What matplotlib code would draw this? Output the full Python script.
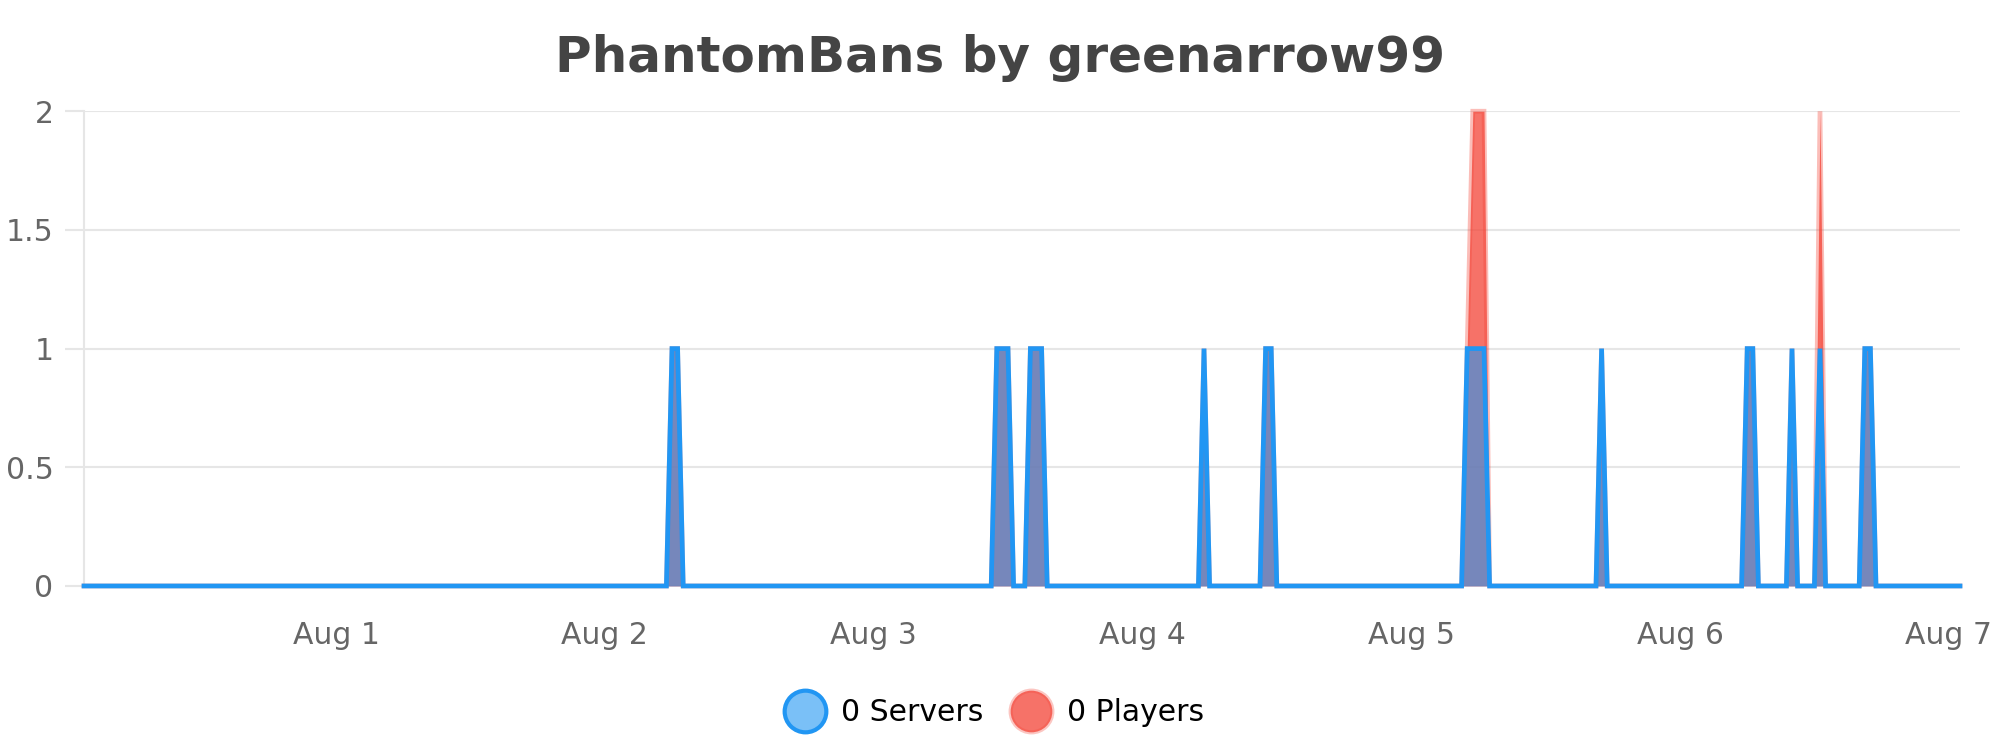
import pandas as pd
import matplotlib
matplotlib.use("Agg")
import matplotlib.pyplot as plt
from matplotlib.lines import Line2D

title = "PhantomBans by greenarrow99"
series_names = ["Servers", "Players"]
legend_counts = [0, 0]

# samples every 30 min, everything outside the spikes is 0
first_sample = "2023-07-31 01:30"
last_sample = "2023-08-07 01:00"
spike_starts = ["2023-08-02 06:00", "2023-08-03 11:00", "2023-08-03 14:00",
                "2023-08-04 05:30", "2023-08-04 11:00", "2023-08-05 05:00",
                "2023-08-05 17:00", "2023-08-06 06:00", "2023-08-06 10:00",
                "2023-08-06 12:30", "2023-08-06 16:30"]
servers_spikes = [[1, 1], [1, 1, 1], [1, 1, 1], [1], [1, 1], [1, 1, 1, 1],
                  [1], [1, 1], [1], [1], [1, 1]]
players_spikes = [[1, 1], [1, 1, 1], [1, 1, 1], [1], [1, 1], [1, 2, 2, 2],
                  [1], [1, 1], [1], [2], [1, 1]]

day_ticks = ["2023-08-01", "2023-08-02", "2023-08-03", "2023-08-04",
             "2023-08-05", "2023-08-06", "2023-08-07"]
day_labels = ["Aug 1", "Aug 2", "Aug 3", "Aug 4", "Aug 5", "Aug 6", "Aug 7"]
y_ticks = [0, 0.5, 1, 1.5, 2]
y_labels = ["0", "0.5", "1", "1.5", "2"]

blue = "#2196F3"
blue_fill = (33 / 255, 150 / 255, 243 / 255, 0.6)
red_fill = (244 / 255, 67 / 255, 54 / 255, 0.75)
red_line = (244 / 255, 67 / 255, 54 / 255, 0.35)
grid_c = "#E6E6E6"
text_c = "#666666"


def build_series(times, starts, spikes):
    s = pd.Series(0.0, index=times)
    for start, vals in zip(starts, spikes):
        i = times.get_loc(pd.Timestamp(start))
        s.iloc[i:i + len(vals)] = vals
    return s


times = pd.date_range(first_sample, last_sample, freq="30min")
servers = build_series(times, spike_starts, servers_spikes)
players = build_series(times, spike_starts, players_spikes)

fig = plt.figure(figsize=(20, 7.5), dpi=100)
ax = fig.add_axes([0.042, 0.2187, 0.938, 0.633])

# players first so servers sit on top
ax.fill_between(times, 0, players.values, color=red_fill, lw=0, zorder=2)
ax.plot(times, players.values, color=red_line, lw=3.4, zorder=3,
        solid_joinstyle="miter", clip_on=False)
ax.fill_between(times, 0, servers.values, color=blue_fill, lw=0, zorder=4)
ax.plot(times, servers.values, color=blue, lw=3.4, zorder=5,
        solid_joinstyle="miter", clip_on=False)

ax.set_xlim(times[0], times[-1])
ax.set_ylim(0, 2)
ax.set_yticks(y_ticks)
ax.set_yticklabels(y_labels)
ax.set_xticks(pd.to_datetime(day_ticks))
ax.set_xticklabels(day_labels)

ax.grid(axis="y", color=grid_c, lw=1.5, zorder=0)
ax.grid(axis="x", visible=False)
for side in ["top", "right", "bottom"]:
    ax.spines[side].set_visible(False)
ax.spines["left"].set_color(grid_c)
ax.spines["left"].set_linewidth(1.5)
ax.tick_params(axis="y", length=14, width=1.5, color=grid_c, labelsize=21.5,
               labelcolor=text_c, pad=8)
ax.tick_params(axis="x", length=0, labelsize=21.5, labelcolor=text_c, pad=25)

fig.text(0.5, 0.922, title, ha="center", va="center", fontsize=36,
         fontweight="bold", color="#444444")

handles = [
    Line2D([], [], ls="", marker="o", markersize=30, markerfacecolor=blue_fill,
           markeredgecolor=blue, markeredgewidth=3),
    Line2D([], [], ls="", marker="o", markersize=30, markerfacecolor=red_fill,
           markeredgecolor=(244 / 255, 67 / 255, 54 / 255, 0.3), markeredgewidth=3),
]
labels = [f"{n} {name}" for n, name in zip(legend_counts, series_names)]
fig.legend(handles, labels, loc="center", bbox_to_anchor=(0.495, 0.05), ncol=2,
           frameon=False, fontsize=21.5, handletextpad=0.2, columnspacing=0.6)

fig.savefig("out.png", dpi=100, facecolor="white")
